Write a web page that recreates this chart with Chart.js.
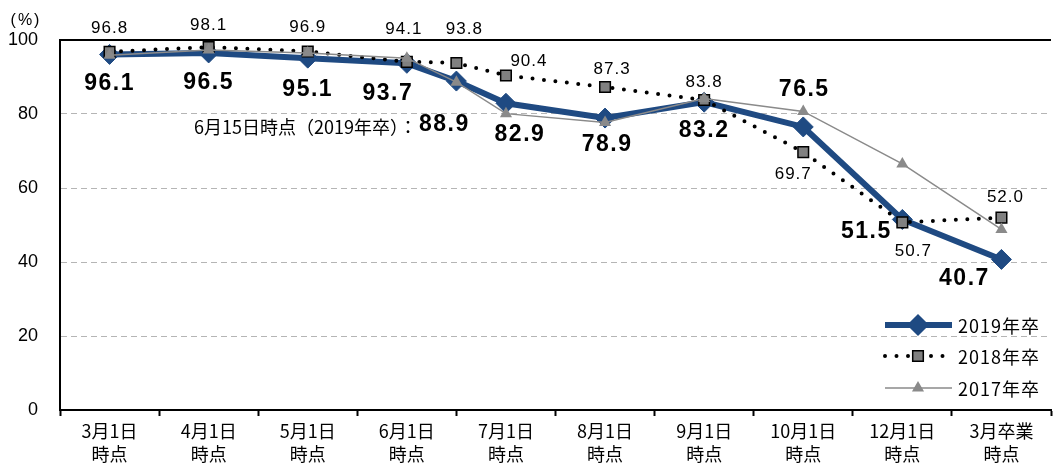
<!DOCTYPE html>
<html lang="ja">
<head>
<meta charset="utf-8">
<script src="https://cdn.jsdelivr.net/npm/chart.js@4.4.1/dist/chart.umd.min.js"></script>
<style>
  html, body { margin: 0; padding: 0; background: #fff; overflow: hidden; }
  #wrap { width: 1062px; height: 463px; }
</style>
</head>
<body>
<div id="wrap"><canvas id="naiteiChart" width="1062" height="463"></canvas></div>
<script>
// カテゴリ（x軸ラベル）
const categories = [
  ["3月1日", "時点"], ["4月1日", "時点"], ["5月1日", "時点"], ["6月1日", "時点"], ["7月1日", "時点"],
  ["8月1日", "時点"], ["9月1日", "時点"], ["10月1日", "時点"], ["12月1日", "時点"], ["3月卒業", "時点"]
];
// 調査時点（カテゴリ番号。6月15日は6月1日と7月1日の間）
const surveyPoints = [0, 1, 2, 3, 3.5, 4, 5, 6, 7, 8, 9];

// 系列の値（%）
const values2019 = [96.1, 96.5, 95.1, 93.7, 88.9, 82.9, 78.9, 83.2, 76.5, 51.5, 40.7];
const values2018 = [96.8, 98.1, 96.9, 94.1, 93.8, 90.4, 87.3, 83.8, 69.7, 50.7, 52.0];
const values2017 = [95.9, 97.3, 96.5, 95.1, 88.6, 80.1, 77.7, 84.2, 80.7, 66.5, 48.8];

const seriesNames = ["2019年卒", "2018年卒", "2017年卒"];
const yTicks = [0, 20, 40, 60, 80, 100];
const unitLabel = "(%)";
const noteLabel = "6月15日時点（2019年卒）：";

// スタイル
const numFont = "'Liberation Sans', Arial, sans-serif";
const jaFont = "'Noto Sans CJK JP', 'Noto Sans', sans-serif";
const blue = "#1f4a82";
const gray = "#8a8a8a";

Chart.defaults.font.family = jaFont;
Chart.defaults.color = "#000";

// ラベルの位置ずれ（点からのオフセット）
const offsets2019 = [[0, 29], [0, 30], [0, 32], [-19, 30], [-12, 44], [14, 31], [2, 27], [0, 28], [1, -37], [-36, 12], [-37, 19]];
const offsets2018 = [[0, -24], [0, -22], [0, -24], [-3, -33], [8, -34], [23, -14], [7, -18], [0, -18], [-10, 22], [11, 29], [4, -20]];

const toXY = (vals) => surveyPoints.map((x, i) => ({ x: x, y: vals[i] }));

// データラベル
const pointLabels = {
  id: "pointLabels",
  afterDatasetsDraw(chart) {
    const ctx = chart.ctx;
    ctx.save();
    ctx.fillStyle = "#000";
    ctx.textAlign = "center";
    ctx.textBaseline = "middle";

    // 2018年卒
    ctx.font = "17px " + numFont;
    ctx.letterSpacing = "1px";
    chart.getDatasetMeta(1).data.forEach((pt, i) => {
      const [dx, dy] = offsets2018[i];
      ctx.fillText(values2018[i].toFixed(1), pt.x + dx, pt.y + dy);
    });

    // 2019年卒
    ctx.font = "bold 23px " + numFont;
    ctx.letterSpacing = "1.5px";
    chart.getDatasetMeta(0).data.forEach((pt, i) => {
      const [dx, dy] = offsets2019[i];
      const txt = values2019[i].toFixed(1);
      const lx = pt.x + dx;
      const ly = pt.y + dy;
      ctx.fillText(txt, lx, ly);
      if (surveyPoints[i] % 1 !== 0) {
        // 6月15日時点の注記
        const w = ctx.measureText(txt).width;
        ctx.save();
        ctx.font = "18px " + jaFont;
        ctx.letterSpacing = "0px";
        ctx.textAlign = "right";
        ctx.fillText(noteLabel, lx - w / 2 - 2, ly + 2);
        ctx.restore();
      }
    });
    ctx.restore();
  },
  afterDraw(chart) {
    const ctx = chart.ctx;
    ctx.save();
    // 単位
    ctx.fillStyle = "#000";
    ctx.font = "16px " + numFont;
    ctx.letterSpacing = "2px";
    ctx.textAlign = "center";
    ctx.textBaseline = "middle";
    ctx.fillText(unitLabel, 26, 21);

    // 凡例
    const rows = [325, 356, 388];
    const x0 = 885, x1 = 952, xm = 918;
    chart.data.datasets.forEach((ds, i) => {
      const y = rows[i];
      ctx.save();
      ctx.strokeStyle = ds.borderColor;
      ctx.lineWidth = ds.borderWidth;
      ctx.lineCap = ds.borderCapStyle || "butt";
      ctx.setLineDash(ds.borderDash || []);
      ctx.beginPath();
      ctx.moveTo(x0, y);
      ctx.lineTo(x1, y);
      ctx.stroke();
      ctx.restore();
      ctx.save();
      ctx.fillStyle = ds.pointBackgroundColor;
      ctx.strokeStyle = ds.pointBorderColor;
      Chart.helpers.drawPoint(ctx, {
        pointStyle: ds.pointStyle,
        radius: ds.pointRadius,
        rotation: 0,
        borderWidth: ds.pointBorderWidth
      }, xm, y);
      ctx.restore();
      ctx.fillStyle = "#000";
      ctx.font = "18px " + jaFont;
      ctx.letterSpacing = "1px";
      ctx.textAlign = "left";
      ctx.fillText(seriesNames[i], 958, y + 1);
    });
    ctx.restore();
  }
};

const isHalf = (v) => Math.abs(v - Math.round(v)) > 1e-6;

new Chart(document.getElementById("naiteiChart"), {
  type: "line",
  data: {
    datasets: [
      {
        label: seriesNames[0],
        data: toXY(values2019),
        borderColor: blue,
        borderWidth: 6,
        pointStyle: "rectRot",
        pointRadius: 10,
        pointBackgroundColor: blue,
        pointBorderColor: blue,
        pointBorderWidth: 1,
        order: 3
      },
      {
        label: seriesNames[1],
        data: toXY(values2018),
        borderColor: "#000",
        borderWidth: 4,
        borderDash: [0, 11.5],
        borderCapStyle: "round",
        pointStyle: "rect",
        pointRadius: 7.5,
        pointBackgroundColor: "#808080",
        pointBorderColor: "#000",
        pointBorderWidth: 1.5,
        order: 2
      },
      {
        label: seriesNames[2],
        data: toXY(values2017),
        borderColor: gray,
        borderWidth: 1.5,
        pointStyle: "triangle",
        pointRadius: 7,
        pointBackgroundColor: gray,
        pointBorderColor: gray,
        pointBorderWidth: 0,
        order: 1
      }
    ]
  },
  options: {
    responsive: false,
    animation: false,
    devicePixelRatio: 1,
    clip: false,
    layout: { padding: { top: 40, right: 2, left: 0, bottom: 0 } },
    elements: { line: { tension: 0 } },
    plugins: {
      legend: { display: false },
      tooltip: { enabled: false },
      title: { display: false }
    },
    scales: {
      x: {
        type: "linear",
        min: -0.5,
        max: 9.5,
        afterFit(scale) { scale.height = 53; },
        ticks: {
          stepSize: 0.5,
          autoSkip: false,
          maxRotation: 0,
          minRotation: 0,
          padding: 4,
          font: { size: 18, family: jaFont, lineHeight: 1.28 },
          callback(value) {
            return isHalf(value) ? "" : categories[Math.round(value)];
          }
        },
        grid: {
          drawOnChartArea: false,
          drawTicks: true,
          tickLength: 6,
          tickWidth: 2,
          tickColor: (c) => (c.tick && isHalf(c.tick.value) ? "#000" : "rgba(0,0,0,0)")
        },
        border: { display: true, color: "#000", width: 2 }
      },
      y: {
        min: 0,
        max: 100,
        afterFit(scale) { scale.width = 60; },
        afterBuildTicks(scale) { scale.ticks = yTicks.map((v) => ({ value: v })); },
        ticks: {
          padding: 22,
          font: { size: 18, family: numFont }
        },
        grid: {
          drawTicks: false,
          color: (c) => {
            if (!c.tick) return "#000";
            if (c.tick.value === 100) return "#000";
            if (c.tick.value === 0) return "rgba(0,0,0,0)";
            return "#b5b5b5";
          },
          lineWidth: (c) => (c.tick && c.tick.value === 100 ? 2 : 1)
        },
        border: {
          display: true,
          color: "#000",
          width: 2,
          dash: (c) => (c.tick && c.tick.value > 0 && c.tick.value < 100 ? [6, 4] : [])
        }
      }
    }
  },
  plugins: [pointLabels]
});
</script>
</body>
</html>
